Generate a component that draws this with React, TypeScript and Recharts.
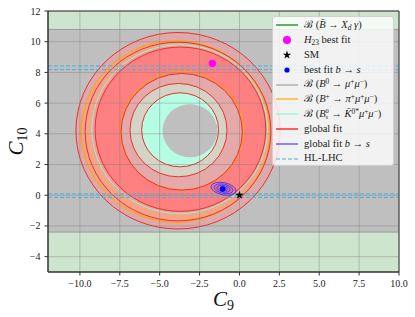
import React from "react";
import {
	ScatterChart,
	Scatter,
	XAxis,
	YAxis,
	ReferenceArea,
	ReferenceLine,
	Label,
	Symbols,
} from "recharts";

document.body.style.margin = "0";

const W = 415;
const H = 317;
const MARGIN = { top: 11, right: 16, bottom: 0, left: 8 };
const Y_AXIS_W = 40;
const X_AXIS_H = 45;
const X_DOMAIN = [-12, 10];
const Y_DOMAIN = [-5, 12];
// pixels per unit, used to turn contour radii into ellipse radii
const KX = (W - MARGIN.left - MARGIN.right - Y_AXIS_W) / (X_DOMAIN[1] - X_DOMAIN[0]);
const KY = (H - MARGIN.top - MARGIN.bottom - X_AXIS_H) / (Y_DOMAIN[1] - Y_DOMAIN[0]);

const xTicks = [-10, -7.5, -5, -2.5, 0, 2.5, 5, 7.5, 10];
const yTicks = [-4, -2, 0, 2, 4, 6, 8, 10, 12];

// B -> X_d gamma allowed C10 range
const xdgLimits = [-2.4, 10.8];

// filled regions, outer to inner
const regionC9 = [-3.85, -4.0, -3.75, -3.7, -3.62, -3.82, -3.72, -3.1];
const regionC10 = [4.2, 4.15, 4.3, 4.3, 4.13, 4.24, 4.26, 4.2];
const regionR = [6.4, 5.92, 5.5, 5.35, 3.8, 3.04, 2.41, 1.72];
const regionFill = ["#dcaaaa", "#f6a487", "#f8999a", "#ff8080", "#e4a9a9", "#d4d4c6", "#b5fde3", "#bfbfbf"];

// global fit contours
const globalC9 = [-3.85, -3.85, -3.7, -3.62, -3.82, -3.72];
const globalC10 = [4.2, 4.15, 4.3, 4.13, 4.24, 4.26];
const globalR = [6.4, 5.82, 5.35, 3.8, 3.04, 2.41];

// B+ -> pi+ mu mu contours
const piC9 = [-4.0, -3.6];
const piC10 = [4.15, 4.2];
const piR = [5.92, 3.87];

// Bs -> K*0 mu mu contour
const kC9 = [-3.75];
const kC10 = [4.3];
const kR = [5.5];

// global fit b -> s contours (semi axes)
const bsC9 = -1.0;
const bsC10 = 0.42;
const bsA = [0.8, 0.6, 0.42, 0.24];
const bsB = [0.4, 0.3, 0.21, 0.12];

// HL-LHC projections
const hlLhc = [8.42, 8.18, 0.09, -0.14];

const h23Fit = [{ c9: -1.7, c10: 8.58 }];
const smPoint = [{ c9: 0, c10: 0 }];
const bsFit = [{ c9: -1.05, c10: 0.4 }];

const table = (c9: number[], c10: number[], r: number[]) =>
	c9.map((v, i) => ({ c9: v, c10: c10[i], r: r[i], i }));

const regions = table(regionC9, regionC10, regionR);
const globalRings = table(globalC9, globalC10, globalR);
const piRings = table(piC9, piC10, piR);
const kRings = table(kC9, kC10, kR);
const bsRings = bsA.map((a, i) => ({ c9: bsC9, c10: bsC10, a, b: bsB[i] }));

const SERIF = "'Liberation Serif', 'DejaVu Serif', serif";

const ring = (stroke: string | null, width = 1) => (p: any) => {
	const d = p.payload ?? p;
	return (
		<ellipse
			cx={p.cx}
			cy={p.cy}
			rx={d.r * KX}
			ry={d.r * KY}
			fill={stroke ? "none" : regionFill[d.i]}
			stroke={stroke ?? "none"}
			strokeWidth={width}
		/>
	);
};

const bsShape = (p: any) => {
	const d = p.payload ?? p;
	return (
		<ellipse
			cx={p.cx}
			cy={p.cy}
			rx={d.a * KX}
			ry={d.b * KY}
			transform={`rotate(12 ${p.cx} ${p.cy})`}
			fill="rgba(40,40,255,0.08)"
			stroke="#3434ff"
			strokeWidth={0.8}
		/>
	);
};

const fmt = (v: number, digits: number) => v.toFixed(digits).replace("-", "\u2212");

const Sub = ({ children }: { children: React.ReactNode }) => (
	<span style={{ fontSize: "0.7em", position: "relative", top: "0.3em" }}>{children}</span>
);
const Sup = ({ children }: { children: React.ReactNode }) => (
	<span style={{ fontSize: "0.7em", position: "relative", top: "-0.4em" }}>{children}</span>
);

const legendItems = [
	{ kind: "line", color: "green", label: <>ℬ (<i>B̄</i> → <i>X</i><Sub><i>d</i></Sub> <i>γ</i>)</> },
	{ kind: "dot", color: "magenta", size: 4, label: <><i>H</i><Sub>23</Sub> best fit</> },
	{ kind: "star", color: "black", label: <>SM</> },
	{ kind: "dot", color: "blue", size: 2.6, label: <>best fit <i>b</i> → <i>s</i></> },
	{ kind: "line", color: "#a0a0a0", label: <>ℬ (<i>B</i><Sup>0</Sup> → <i>μ</i><Sup>+</Sup><i>μ</i><Sup>−</Sup>)</> },
	{ kind: "line", color: "orange", label: <>ℬ (<i>B</i><Sup>+</Sup> → <i>π</i><Sup>+</Sup><i>μ</i><Sup>+</Sup><i>μ</i><Sup>−</Sup>)</> },
	{
		kind: "line",
		color: "aquamarine",
		label: (
			<>
				ℬ (<i>B</i>
				<span style={{ display: "inline-flex", flexDirection: "column", fontSize: "0.62em", lineHeight: 1, verticalAlign: "middle" }}>
					<span>0</span>
					<i>s</i>
				</span>
				{" "}→ <i>K̄</i><Sup>0*</Sup><i>μ</i><Sup>+</Sup><i>μ</i><Sup>−</Sup>)
			</>
		),
	},
	{ kind: "line", color: "red", label: <>global fit</> },
	{ kind: "line", color: "#4040ff", label: <>global fit <i>b</i> → <i>s</i></> },
	{ kind: "dash", color: "#3cb4e6", label: <>HL-LHC</> },
];

const Swatch = ({ item }: { item: any }) => (
	<svg width={22} height={10} style={{ flex: "none" }}>
		{item.kind === "line" && <line x1={0} x2={22} y1={5} y2={5} stroke={item.color} strokeWidth={1.2} />}
		{item.kind === "dash" && (
			<line x1={0} x2={22} y1={5} y2={5} stroke={item.color} strokeWidth={1.2} strokeDasharray="4 2" />
		)}
		{item.kind === "dot" && <circle cx={11} cy={5} r={item.size} fill={item.color} />}
		{item.kind === "star" && <Symbols cx={11} cy={5} type="star" size={22} fill={item.color} />}
	</svg>
);

const ChartLegend = () => (
	<div
		style={{
			position: "absolute",
			left: 272,
			top: 16,
			width: 122,
			height: 150,
			boxSizing: "border-box",
			background: "rgba(255,255,255,0.8)",
			border: "1px solid #d0d0d0",
			borderRadius: 3,
			paddingTop: 1,
			fontFamily: SERIF,
			fontSize: 10.5,
			color: "#222",
		}}
	>
		{legendItems.map((item, i) => (
			<div key={i} style={{ display: "flex", alignItems: "center", height: 14.8, lineHeight: 1, whiteSpace: "nowrap" }}>
				<span style={{ width: 3 }} />
				<Swatch item={item} />
				<span style={{ marginLeft: 6 }}>{item.label}</span>
			</div>
		))}
	</div>
);

const XLabel = (props: any) => {
	const vb = props.viewBox;
	const cx = vb.x + vb.width / 2;
	return (
		<text x={cx} y={306} textAnchor="middle" fontFamily={SERIF} fontSize={21} fill="#111">
			<tspan fontStyle="italic">C</tspan>
			<tspan fontSize={14} dy={4}>9</tspan>
		</text>
	);
};

const YLabel = (props: any) => {
	const vb = props.viewBox;
	const cy = vb.y + vb.height / 2;
	const x = 23;
	return (
		<text x={x} y={cy} transform={`rotate(-90 ${x} ${cy})`} textAnchor="middle" fontFamily={SERIF} fontSize={21} fill="#111">
			<tspan fontStyle="italic">C</tspan>
			<tspan fontSize={14} dy={4}>10</tspan>
		</text>
	);
};

const tickStyle = { fontSize: 10, fill: "#222", fontFamily: SERIF };

export default function App() {
	return (
		<div style={{ position: "relative", width: W, height: H }}>
			<ScatterChart width={W} height={H} margin={MARGIN}>
				<XAxis
					type="number"
					dataKey="c9"
					domain={X_DOMAIN}
					ticks={xTicks}
					allowDataOverflow
					height={X_AXIS_H}
					tick={tickStyle}
					tickFormatter={(v) => fmt(v, 1)}
					tickSize={3.5}
					tickMargin={4}
					stroke="#333"
				>
					<Label content={XLabel} />
				</XAxis>
				<YAxis
					type="number"
					dataKey="c10"
					domain={Y_DOMAIN}
					ticks={yTicks}
					allowDataOverflow
					width={Y_AXIS_W}
					tick={tickStyle}
					tickFormatter={(v) => fmt(v, 0)}
					tickSize={3.5}
					tickMargin={4}
					stroke="#333"
				>
					<Label content={YLabel} />
				</YAxis>

				<ReferenceArea x1={-12} x2={10} y1={-5} y2={12} fill="#cce5cc" fillOpacity={1} zIndex={10} />
				<ReferenceArea x1={-12} x2={10} y1={xdgLimits[0]} y2={xdgLimits[1]} fill="#bfbfbf" fillOpacity={1} zIndex={11} />
				{xdgLimits.map((v) => (
					<ReferenceLine key={"x" + v} y={v} stroke="#9a9a9a" strokeWidth={1} zIndex={12} />
				))}

				<Scatter data={regions} shape={ring(null)} isAnimationActive={false} zIndex={20} />
				<Scatter data={kRings} shape={ring("#7fffd4", 1)} isAnimationActive={false} zIndex={21} />
				<Scatter data={piRings} shape={ring("#ffa500", 1)} isAnimationActive={false} zIndex={22} />
				<Scatter data={globalRings} shape={ring("#f22c2c", 1)} isAnimationActive={false} zIndex={23} />

				{xTicks.map((v) => (
					<ReferenceLine key={"gx" + v} x={v} stroke="#7a7a7a" strokeOpacity={0.4} zIndex={30} />
				))}
				{yTicks.map((v) => (
					<ReferenceLine key={"gy" + v} y={v} stroke="#7a7a7a" strokeOpacity={0.4} zIndex={30} />
				))}

				{hlLhc.map((v) => (
					<ReferenceLine key={"hl" + v} y={v} stroke="#3cb4e6" strokeWidth={1} strokeDasharray="4 2" zIndex={31} />
				))}

				<Scatter data={bsRings} shape={bsShape} isAnimationActive={false} zIndex={40} />
				<Scatter
					data={bsFit}
					shape={(p: any) => <circle cx={p.cx} cy={p.cy} r={2.8} fill="blue" />}
					isAnimationActive={false}
					zIndex={41}
				/>
				<Scatter
					data={h23Fit}
					shape={(p: any) => <circle cx={p.cx} cy={p.cy} r={3.7} fill="magenta" />}
					isAnimationActive={false}
					zIndex={42}
				/>
				<Scatter
					data={smPoint}
					shape={(p: any) => <Symbols cx={p.cx} cy={p.cy} type="star" size={22} fill="black" />}
					isAnimationActive={false}
					zIndex={43}
				/>

				<ReferenceArea x1={-12} x2={10} y1={-5} y2={12} fill="none" stroke="#333" strokeWidth={1} zIndex={50} />
			</ScatterChart>
			<ChartLegend />
		</div>
	);
}
